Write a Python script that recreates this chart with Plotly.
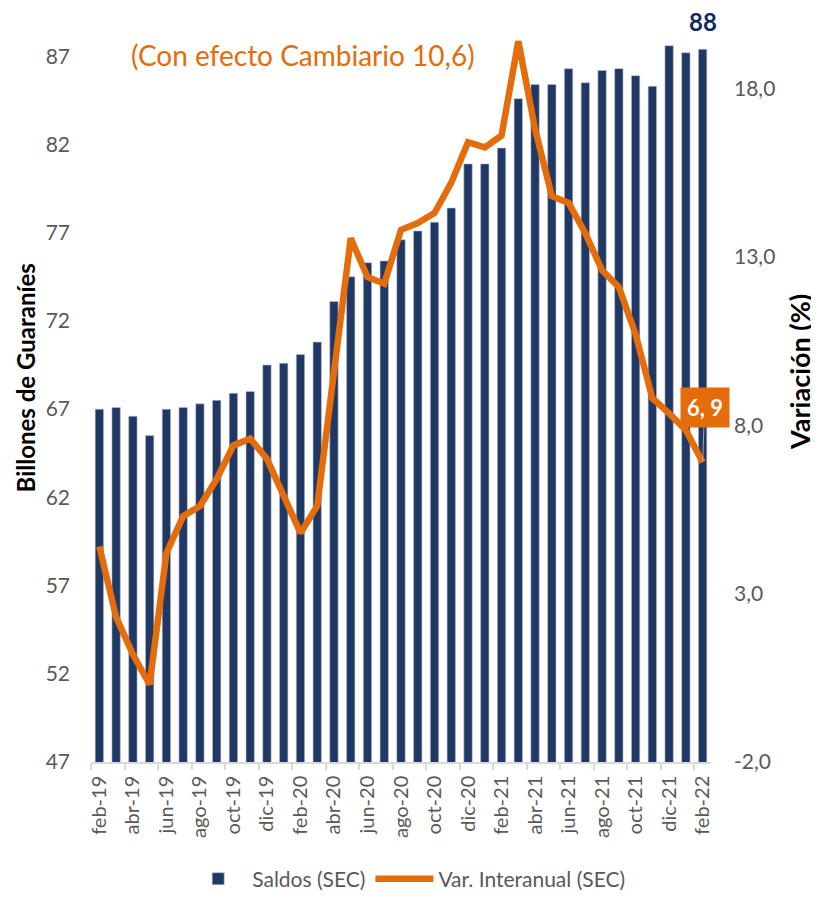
import plotly.graph_objects as go

months = ["feb-19", "mar-19", "abr-19", "may-19", "jun-19", "jul-19", "ago-19", "sep-19", "oct-19", "nov-19",
          "dic-19", "ene-20", "feb-20", "mar-20", "abr-20", "may-20", "jun-20", "jul-20", "ago-20", "sep-20",
          "oct-20", "nov-20", "dic-20", "ene-21", "feb-21", "mar-21", "abr-21", "may-21", "jun-21", "jul-21",
          "ago-21", "sep-21", "oct-21", "nov-21", "dic-21", "ene-22", "feb-22"]

saldos = [67.0, 67.1, 66.6, 65.5, 67.0, 67.1, 67.3, 67.5, 67.9, 68.0,
          69.5, 69.6, 70.1, 70.8, 73.1, 74.5, 75.3, 75.4, 76.6, 77.1,
          77.6, 78.4, 80.9, 80.9, 81.8, 84.6, 85.4, 85.4, 86.3, 85.5,
          86.2, 86.3, 85.9, 85.3, 87.6, 87.2, 87.4]

variacion = [4.4, 2.3, 1.2, 0.3, 4.2, 5.3, 5.6, 6.4, 7.4, 7.6,
             7.0, 5.9, 4.8, 5.6, 9.6, 13.55, 12.4, 12.2, 13.8, 14.0,
             14.3, 15.2, 16.4, 16.25, 16.6, 19.4, 16.8, 14.8, 14.6, 13.7,
             12.6, 12.1, 10.7, 8.8, 8.35, 7.85, 6.9]

left_ticks = [47, 52, 57, 62, 67, 72, 77, 82, 87]
right_ticks = [-2, 3, 8, 13, 18]
right_tick_text = ["-2,0", "3,0", "8,0", "13,0", "18,0"]

label_last_bar = "88"
title_text = "(Con efecto Cambiario 10,6)"
left_title = "Billones de Guaraníes"
right_title = "Variación (%)"

x = list(range(len(months)))
tick_idx = x[::2]
tick_txt = months[::2]

NAVY = "#203864"
ORANGE = "#E46C0A"
GRAY = "#595959"
FONT = "Lato"

fig = go.Figure()
fig.add_trace(go.Bar(
    x=x, y=saldos, name="Saldos (SEC)", width=0.5,
    marker=dict(color=NAVY, line=dict(color="#b8c2d6", width=0.6)),
    yaxis="y",
))
fig.add_trace(go.Scatter(
    x=x, y=variacion, name="Var. Interanual (SEC)", mode="lines",
    line=dict(color=ORANGE, width=6.5, shape="linear"),
    yaxis="y2",
))

# page body has an 8px margin: figure is sized/offset to compensate
fig.update_layout(
    width=811, height=890,
    margin=dict(l=83, r=108, t=13, b=136, autoexpand=False),
    paper_bgcolor="white", plot_bgcolor="white",
    font=dict(family=FONT, color=GRAY, size=16),
    bargap=0.5,
    showlegend=True,
    legend=dict(orientation="h", x=0.51, xanchor="center", y=-0.158, yanchor="middle",
                font=dict(size=21, color=GRAY, family=FONT), itemwidth=58, tracegroupgap=0),
    xaxis=dict(
        range=[-0.5, 36.5], tickmode="array", tickvals=tick_idx, ticktext=tick_txt,
        tickangle=-90, ticks="", showgrid=False, zeroline=False, automargin=False,
        showline=True, linecolor="#d9d9d9", linewidth=1.5, ticklabelstandoff=4,
        tickfont=dict(size=20, color=GRAY, family=FONT),
        minor=dict(ticks="outside", tick0=-0.5, dtick=2, ticklen=6, tickcolor="#d9d9d9", tickwidth=1.5, showgrid=False),
    ),
    yaxis=dict(
        range=[47, 89], tickmode="array", tickvals=left_ticks,
        showgrid=False, zeroline=False, showline=False, ticks="", automargin=False,
        ticklabelstandoff=20,
        tickfont=dict(size=21, color=GRAY, family=FONT),
    ),
    yaxis2=dict(
        range=[-2, 20], overlaying="y", side="right", tickmode="array",
        tickvals=right_ticks, ticktext=right_tick_text,
        showgrid=False, zeroline=False, showline=False, ticks="", automargin=False,
        ticklabelstandoff=22,
        tickfont=dict(size=21, color=GRAY, family=FONT),
    ),
)

# axis titles (placed in pixel-matched paper coordinates)
fig.add_annotation(
    text=f"<b>{left_title}</b>", xref="paper", yref="paper", x=-0.106, y=0.518,
    xanchor="center", yanchor="middle", textangle=-90, showarrow=False,
    font=dict(size=24, color="black", family=FONT),
)
fig.add_annotation(
    text=f"<b>{right_title}</b>", xref="paper", yref="paper", x=1.143, y=0.526,
    xanchor="center", yanchor="middle", textangle=-90, showarrow=False,
    font=dict(size=27, color="black", family=FONT),
)

fig.add_annotation(
    text=title_text, xref="paper", yref="paper", x=0.342, y=0.954,
    xanchor="center", yanchor="middle", showarrow=False,
    font=dict(size=28, color=ORANGE, family=FONT),
)
fig.add_annotation(
    text=f"<b>{label_last_bar}</b>", xref="x", yref="y", x=x[-1], y=88.95,
    xanchor="center", yanchor="middle", showarrow=False,
    font=dict(size=24, color="#10295f", family=FONT),
)
fig.add_annotation(
    text=f"<b>{variacion[-1]:.1f}</b>".replace(".", ", "), xref="x", yref="y2",
    x=x[-1], y=variacion[-1], ax=2, ay=-55, showarrow=True, arrowhead=0,
    arrowwidth=1, arrowcolor="#a6a6a6", bgcolor=ORANGE, borderpad=6,
    font=dict(size=22, color="white", family=FONT),
)

fig.write_html("out.html")
